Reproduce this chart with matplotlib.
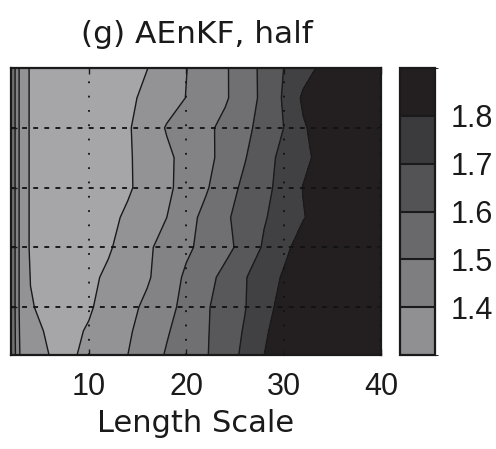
import numpy as np
import matplotlib
matplotlib.use("Agg")
import matplotlib.pyplot as plt
from matplotlib.colors import ListedColormap, BoundaryNorm
import matplotlib as mpl

plt.rcParams['lines.scale_dashes'] = False
plt.rcParams['font.family'] = ['Liberation Sans', 'DejaVu Sans']

# ---- data ----
length_scale = [2, 3, 4, 6, 8, 10, 12, 14, 16, 18, 20, 22, 24, 26, 28, 30, 32, 34, 36, 38, 40]
y_vals = [0.2, 0.6, 1.0, 1.5, 2.0, 2.5, 3.0, 3.5, 4.0, 4.5, 5.0]

rmse = [
    [1.60, 1.38, 1.34, 1.298, 1.285, 1.323, 1.362, 1.40, 1.456, 1.508, 1.55, 1.592, 1.652, 1.721, 1.80, 1.85, 1.89, 1.91, 1.93, 1.94, 1.95],
    [1.60, 1.37, 1.32, 1.29, 1.28, 1.308, 1.348, 1.388, 1.438, 1.492, 1.541, 1.59, 1.647, 1.708, 1.788, 1.84, 1.88, 1.91, 1.93, 1.94, 1.95],
    [1.60, 1.36, 1.305, 1.28, 1.27, 1.29, 1.333, 1.374, 1.42, 1.472, 1.528, 1.588, 1.642, 1.695, 1.769, 1.83, 1.87, 1.90, 1.92, 1.94, 1.95],
    [1.60, 1.36, 1.298, 1.27, 1.27, 1.28, 1.316, 1.353, 1.389, 1.45, 1.516, 1.568, 1.627, 1.693, 1.753, 1.81, 1.86, 1.89, 1.92, 1.94, 1.95],
    [1.60, 1.36, 1.29, 1.26, 1.26, 1.27, 1.29, 1.337, 1.385, 1.434, 1.483, 1.529, 1.573, 1.633, 1.713, 1.777, 1.84, 1.88, 1.91, 1.93, 1.95],
    [1.60, 1.36, 1.29, 1.26, 1.25, 1.26, 1.28, 1.313, 1.357, 1.40, 1.465, 1.526, 1.585, 1.639, 1.692, 1.744, 1.795, 1.84, 1.88, 1.91, 1.93],
    [1.60, 1.36, 1.29, 1.26, 1.25, 1.26, 1.27, 1.29, 1.329, 1.382, 1.435, 1.489, 1.557, 1.621, 1.674, 1.734, 1.803, 1.85, 1.88, 1.91, 1.93],
    [1.60, 1.36, 1.29, 1.26, 1.25, 1.26, 1.27, 1.29, 1.333, 1.382, 1.43, 1.475, 1.529, 1.594, 1.664, 1.726, 1.777, 1.83, 1.87, 1.90, 1.93],
    [1.60, 1.36, 1.29, 1.26, 1.25, 1.26, 1.27, 1.29, 1.347, 1.407, 1.443, 1.48, 1.524, 1.576, 1.635, 1.70, 1.79, 1.84, 1.88, 1.91, 1.93],
    [1.60, 1.36, 1.29, 1.26, 1.25, 1.25, 1.27, 1.285, 1.317, 1.36, 1.402, 1.446, 1.489, 1.552, 1.625, 1.71, 1.815, 1.86, 1.89, 1.92, 1.94],
    [1.60, 1.36, 1.29, 1.26, 1.25, 1.25, 1.26, 1.28, 1.299, 1.348, 1.398, 1.443, 1.489, 1.554, 1.626, 1.70, 1.763, 1.82, 1.86, 1.89, 1.92],
]

fill_levels = [1.0, 1.3, 1.4, 1.5, 1.6, 1.7, 1.8, 2.2]
line_levels = [1.3, 1.4, 1.5, 1.6, 1.7, 1.8]
fill_colors = ['#a6a6a9', '#939396', '#838385', '#707072', '#58585a', '#414143', '#231f20']

cbar_bounds = [1.3, 1.4, 1.5, 1.6, 1.7, 1.8, 1.9]
cbar_ticks = [1.4, 1.5, 1.6, 1.7, 1.8]
cbar_colors = ['#909093', '#7e7e80', '#69696b', '#535355', '#3b3b3d', '#231f20']

x_ticks = [10, 20, 30, 40]
y_ticks = [1, 2, 3, 4]

title = "(g) AEnKF, half"
xlabel = "Length Scale"

# ---- figure ----
W, H = 496, 449
fig = plt.figure(figsize=(W / 100, H / 100), dpi=100)
ax = fig.add_axes([11 / W, 1 - 355 / H, 370 / W, 287 / H])

X, Y = np.meshgrid(length_scale, y_vals)
Z = np.array(rmse)
ax.contourf(X, Y, Z, levels=fill_levels, colors=fill_colors, zorder=1)
ax.contour(X, Y, Z, levels=line_levels, colors='#1a1a1a', linewidths=1.0, zorder=2)

ax.set_xlim(2, 40)
ax.set_ylim(0.2, 5.0)
ax.set_xticks(x_ticks)
ax.set_yticks(y_ticks)
ax.set_yticklabels([])
ax.tick_params(direction='in', length=4, width=1, top=True, right=True,
               labelsize=22, pad=12, colors='#1a1a1a')

ax.xaxis.grid(True, color='#111111', linestyle=(0, (1.3, 9)), linewidth=1.3, zorder=3)
ax.yaxis.grid(True, color='#111111', linestyle=(0, (3.5, 4.5)), linewidth=1.3, zorder=3)
ax.set_axisbelow(False)

for sp in ax.spines.values():
    sp.set_linewidth(1.6)
    sp.set_color('#1a1a1a')

ax.set_xlabel(xlabel, fontsize=22, family='DejaVu Sans', color='#1a1a1a', labelpad=5)
fig.text(197 / W, 1 - 43 / H, title, fontsize=22.5, family='DejaVu Sans',
         ha='center', va='baseline', color='#1a1a1a')

# ---- colorbar ----
cax = fig.add_axes([400 / W, 1 - 355 / H, 35 / W, 287 / H])
cmap = ListedColormap(cbar_colors)
norm = BoundaryNorm(cbar_bounds, cmap.N)
cb = mpl.colorbar.ColorbarBase(cax, cmap=cmap, norm=norm, boundaries=cbar_bounds,
                               ticks=cbar_ticks, drawedges=True)
cb.dividers.set_color('#1a1a1a')
cb.dividers.set_linewidth(1.5)
cb.outline.set_linewidth(1.6)
cb.outline.set_edgecolor('#1a1a1a')
cax.tick_params(length=0, labelsize=22, pad=11, colors='#1a1a1a')
cax.set_yticklabels(["%.1f" % t for t in cbar_ticks])

fig.savefig("out.png", dpi=100)
